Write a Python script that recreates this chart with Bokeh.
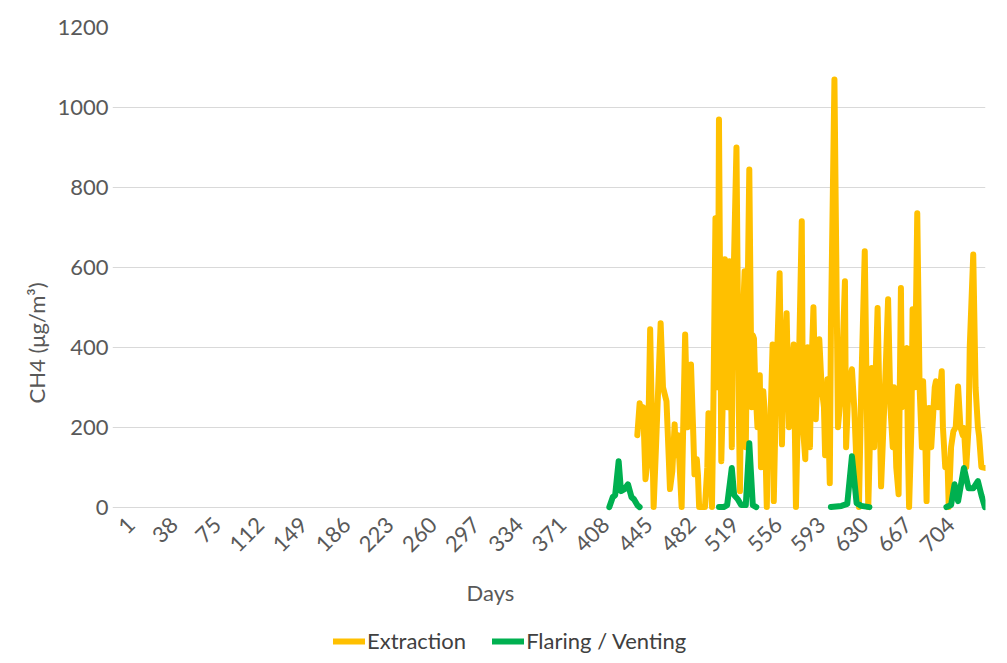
import math
from bokeh.plotting import figure
from bokeh.models import (FixedTicker, Legend, LegendItem, Range1d,
                          ColumnDataSource, LinearAxis)
from bokeh.embed import file_html
from bokeh.resources import INLINE

NAN = float("nan")

# x-axis tick labels (days)
x_ticks = list(range(1, 734, 37))  # 1, 38, ..., 704
n_days = 733

# Extraction series (day, CH4 µg/m³)
ext_day = [435, 437, 438, 440, 442, 444, 446, 449, 451, 455,
           457, 460, 462, 463, 465, 467, 468, 470, 472, 473,
           474, 476, 478, 479, 480, 481, 483, 484, 486, 487,
           488, 490, 492, 493, 495, 496, 497, 499, 500, 502,
           504, 505, 507, 509, 510, 512, 514, 516, 517, 520,
           522, 523, 524, 527, 528, 529, 531, 533, 534, 535,
           536, 538, 540, 541, 543, 544, 546, 547, 549, 551,
           552, 554, 557, 559, 560, 563, 565, 566, 569, 571,
           573, 576, 577, 579, 581, 583, 584, 586, 588, 589,
           591, 593, 595, 596, 598, 600, 601, 604, 606, 607,
           610, 613, 614, 616, 619, 621, 623, 625, 627, 630,
           632, 633, 636, 638, 639, 641, 643, 644, 646, 648,
           650, 652, 654, 655, 657, 659, 661, 662, 664, 666,
           667, 668, 670, 671, 673, 675, 677, 679, 680, 682,
           683, 684, 685, 687, 690, 691, 693, 696, 697, 699,
           701, 702, 704, 706, 708, 710, 712, 714, 715, 717,
           719, 720, 723, 725, 727, 728, 730, 733]
ext_val = [180, 260, 235, 250, 70, 120, 445, 0, 150, 460,
           300, 265, 120, 45, 90, 207, 130, 180, 60, 0,
           150, 432, 200, 307, 250, 357, 180, 82, 120, 80,
           0, 0, 0, 0, 100, 235, 180, 0, 200, 723,
           300, 970, 115, 350, 620, 250, 615, 150, 500, 900,
           250, 40, 350, 590, 150, 400, 845, 250, 430, 422,
           315, 200, 330, 100, 290, 248, 0, 150, 200, 407,
           15, 300, 585, 157, 300, 485, 200, 300, 407, 0,
           280, 715, 200, 120, 400, 150, 320, 500, 220, 300,
           420, 300, 250, 130, 320, 60, 450, 1070, 500, 200,
           300, 565, 150, 300, 345, 248, 100, 0, 300, 640,
           200, 0, 348, 150, 300, 498, 200, 52, 200, 350,
           520, 250, 150, 300, 100, 32, 548, 250, 350, 398,
           150, 0, 200, 495, 300, 735, 300, 150, 315, 150,
           15, 200, 248, 150, 300, 315, 250, 340, 200, 100,
           107, 0, 150, 190, 200, 302, 200, 180, 198, 100,
           200, 400, 632, 300, 200, 178, 100, 98]

# Flaring / Venting series (NaN = no data)
flare_day = [411, 414, 416, 419, 421, 424, 427, 430, 432, 435, 437, 438,
             505, 509, 512, 516, 518, 521, 524, 528, 531, 534, 537, 538,
             601, 610, 615, 619, 623, 627, 634, 635,
             700, 704, 707, 710, 715, 719, 723, 727, 730, 733]
flare_val = [0, 25, 30, 115, 40, 45, 57, 25, 20, 5, 0, NAN,
             0, 0, 5, 98, 30, 20, 5, 5, 160, 5, 0, NAN,
             0, 3, 8, 127, 10, 3, 0, NAN,
             0, 5, 57, 15, 98, 47, 47, 65, 30, 0]

y_ticks = [0, 200, 400, 600, 800, 1000, 1200]

FONT = "Lato"
TICK_COLOR = "#595959"

# The frame reaches down to the legend; the x axis is pinned at y = 0.
p = figure(width=1007, height=658, frame_width=873, frame_height=631,
           output_backend="svg", toolbar_location=None,
           x_range=Range1d(-14.95, n_days + 0.51), y_range=Range1d(-378.8, 1200),
           min_border_left=112, min_border_right=22, min_border_top=27,
           min_border_bottom=0)
p.outline_line_color = None
p.background_fill_color = "white"
p.border_fill_color = "white"

ext_src = ColumnDataSource(dict(day=ext_day, val=ext_val))
fl_src = ColumnDataSource(dict(day=flare_day, val=flare_val))

r1 = p.line("day", "val", source=ext_src, line_color="#FFC000", line_width=6,
            line_join="round", line_cap="round")
r2 = p.line("day", "val", source=fl_src, line_color="#00B050", line_width=6,
            line_join="round", line_cap="round")

# grid
p.xgrid.visible = False
p.ygrid.grid_line_color = "#d9d9d9"
p.ygrid.grid_line_width = 1
p.ygrid.ticker = FixedTicker(ticks=y_ticks)

# y axis
p.yaxis.ticker = FixedTicker(ticks=y_ticks)
p.yaxis.bounds = (0, 1200)
p.yaxis.axis_line_color = None
p.yaxis.major_tick_line_color = None
p.yaxis.minor_tick_line_color = None
p.yaxis.major_label_text_font = FONT
p.yaxis.major_label_text_font_size = "22px"
p.yaxis.major_label_text_color = TICK_COLOR
p.yaxis.major_label_standoff = -2
p.yaxis.axis_label = "CH4 (μg/m³)"
p.yaxis.axis_label_text_font = FONT
p.yaxis.axis_label_text_font_size = "22px"
p.yaxis.axis_label_text_font_style = "normal"
p.yaxis.axis_label_text_color = TICK_COLOR
p.yaxis.axis_label_standoff = 4

# x axis (pinned at y = 0), tick labels only
p.xaxis.fixed_location = 0
p.xaxis.ticker = FixedTicker(ticks=x_ticks)
p.xaxis.axis_line_color = None
p.xaxis.major_tick_line_color = None
p.xaxis.minor_tick_line_color = None
p.xaxis.major_label_orientation = math.pi / 4
p.xaxis.major_label_text_font = FONT
p.xaxis.major_label_text_font_size = "22px"
p.xaxis.major_label_text_color = TICK_COLOR
p.xaxis.major_label_standoff = 8

# second x axis carrying the "Days" title, centred like the reference
x_title_axis = LinearAxis(fixed_location=0, ticker=FixedTicker(ticks=[]),
                          bounds=(0.5, 617.7), axis_label="Days",
                          axis_line_color=None, major_tick_line_color=None,
                          minor_tick_line_color=None, major_tick_out=0,
                          major_label_standoff=0, axis_label_standoff=71,
                          axis_label_text_font=FONT,
                          axis_label_text_font_size="22px",
                          axis_label_text_font_style="normal",
                          axis_label_text_color=TICK_COLOR)
p.add_layout(x_title_axis, "below")

legend = Legend(items=[LegendItem(label="Extraction", renderers=[r1]),
                       LegendItem(label="Flaring / Venting", renderers=[r2])],
                orientation="horizontal", location=(221, 4),
                border_line_color=None, background_fill_alpha=0,
                label_text_font=FONT, label_text_font_size="22px",
                label_text_color="#404040", glyph_width=32, glyph_height=20,
                label_standoff=2, spacing=26, padding=0, margin=0)
p.add_layout(legend, "center")

open("out.html", "w").write(file_html(p, INLINE))
